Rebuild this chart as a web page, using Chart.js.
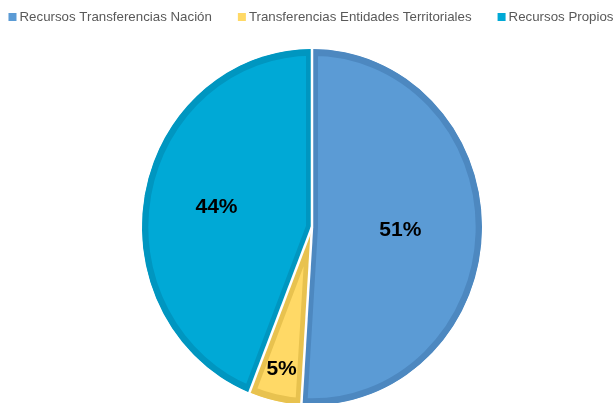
<!DOCTYPE html>
<html lang="es">
<head>
  <meta charset="UTF-8">
  <title>Fuentes de recursos</title>
  <script src="https://cdn.jsdelivr.net/npm/chart.js"></script>
  <style>
    body {
      margin: 0;
      padding: 0;
      background-color: #fff;
    }

    .container {
      width: 616px;
      height: 403px;
      position: relative;
    }
  </style>
</head>
<body>

  <div class="container">
    <canvas id="pieChart"></canvas>
  </div>

  <script>
    // Datos
    var categorias = ['Recursos Transferencias Nación', 'Transferencias Entidades Territoriales', 'Recursos Propios'];
    var porcentajes = [51, 5, 44];
    var etiquetas = ['51%', '5%', '44%'];

    var colores = ['#5b9bd5', '#ffd966', '#00a9d6'];
    var coloresBorde = ['#4d88c0', '#e8c24f', '#0096c0'];
    // distancia relativa de cada etiqueta al centro
    var posEtiqueta = [0.52, 0.82, 0.59];

    // Estira el pastel verticalmente (se ve un poco ovalado en el original)
    var elipsePlugin = {
      id: 'elipse',
      beforeDatasetsDraw: function (chart) {
        var arc = chart.getDatasetMeta(0).data[0];
        var ctx = chart.ctx;
        ctx.save();
        ctx.translate(arc.x, arc.y);
        ctx.scale(1, 178 / 170);
        ctx.translate(-arc.x, -arc.y);
      },
      afterDatasetsDraw: function (chart) {
        var ctx = chart.ctx;
        // lineas blancas entre porciones
        ctx.strokeStyle = '#fff';
        ctx.lineWidth = 2.5;
        chart.getDatasetMeta(0).data.forEach(function (arc) {
          ctx.beginPath();
          ctx.moveTo(arc.x, arc.y);
          ctx.lineTo(arc.x + Math.cos(arc.startAngle) * (arc.outerRadius + 2),
                     arc.y + Math.sin(arc.startAngle) * (arc.outerRadius + 2));
          ctx.stroke();
        });
        ctx.restore();
      }
    };

    // Etiquetas de porcentaje y leyenda propia
    var textosPlugin = {
      id: 'textos',
      afterDraw: function (chart) {
        var ctx = chart.ctx;
        var meta = chart.getDatasetMeta(0);

        ctx.save();
        ctx.fillStyle = '#000';
        ctx.font = 'bold 21px "Liberation Sans", Arial, sans-serif';
        ctx.textAlign = 'center';
        ctx.textBaseline = 'middle';
        meta.data.forEach(function (arc, i) {
          var medio = (arc.startAngle + arc.endAngle) / 2;
          var r = arc.outerRadius * posEtiqueta[i];
          var x = arc.x + Math.cos(medio) * r + (i === 2 ? 3 : 0);
          var y = arc.y + Math.sin(medio) * r * 178 / 170;
          ctx.fillText(etiquetas[i], x, y);
        });

        // leyenda
        ctx.font = '13.3px "Liberation Sans", Arial, sans-serif';
        ctx.textAlign = 'left';
        var caja = 8, sep = 3, hueco = 26;
        var anchos = categorias.map(function (t) { return ctx.measureText(t).width; });
        var total = anchos.reduce(function (a, b) { return a + b; }, 0) + categorias.length * (caja + sep) + hueco * (categorias.length - 1);
        var x = 311 - total / 2;
        var yl = 17;
        categorias.forEach(function (t, i) {
          ctx.fillStyle = colores[i];
          ctx.fillRect(x, yl - 4, caja, caja);
          ctx.fillStyle = '#595959';
          ctx.fillText(t, x + caja + sep, yl);
          x += caja + sep + anchos[i] + hueco;
        });
        ctx.restore();
      }
    };

    var ctx = document.getElementById('pieChart').getContext('2d');

    var pieChart = new Chart(ctx, {
      type: 'pie',
      data: {
        labels: categorias,
        datasets: [{
          data: porcentajes,
          backgroundColor: colores,
          borderColor: coloresBorde,
          borderWidth: 6,
          borderAlign: 'inner'
        }]
      },
      options: {
        responsive: true,
        maintainAspectRatio: false,
        animation: false,
        layout: {
          padding: { top: 57, bottom: 6, left: 8, right: 0 }
        },
        plugins: {
          legend: { display: false },
          tooltip: { enabled: false }
        }
      },
      plugins: [elipsePlugin, textosPlugin]
    });
  </script>

</body>
</html>
